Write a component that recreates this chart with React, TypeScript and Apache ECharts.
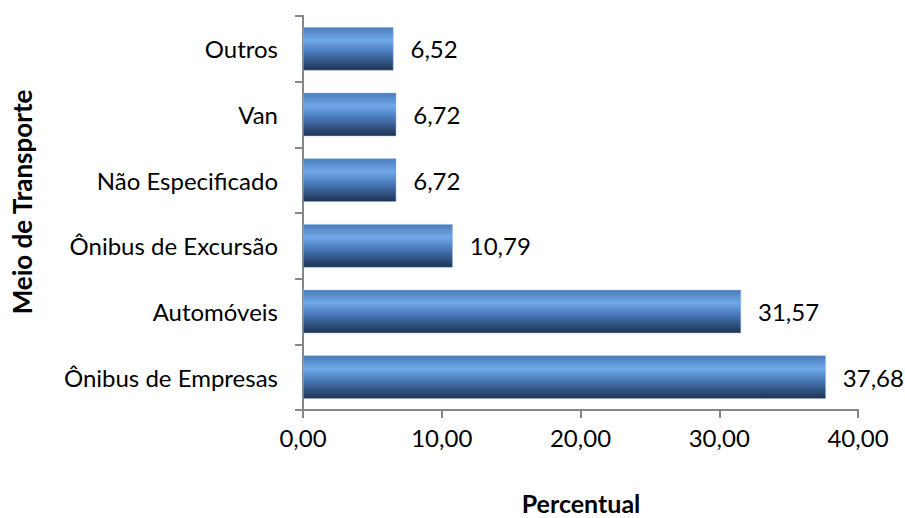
import React, { useEffect, useRef } from "react";
import * as echarts from "echarts";

const categories = ["Ônibus de Empresas", "Automóveis", "Ônibus de Excursão", "Não Especificado", "Van", "Outros"];
const values = [37.68, 31.57, 10.79, 6.72, 6.72, 6.52];
const xTicks = [0, 10, 20, 30, 40];
const xTitle = "Percentual";
const yTitle = "Meio de Transporte";

const FONT = "Lato, 'Open Sans', sans-serif";
const fmt = (v: number) => v.toFixed(2).replace(".", ",");

export default function App() {
  const ref = useRef<HTMLDivElement>(null);
  useEffect(() => {
    document.body.style.margin = "0";
    const chart = echarts.init(ref.current!, null, { renderer: "svg" });
    chart.setOption({
      animation: false,
      backgroundColor: "#ffffff",
      grid: { left: 303, top: 16, width: 555, height: 394, containLabel: false, outerBoundsMode: "none" },
      graphic: [
        {
          type: "text",
          x: 581,
          y: 503,
          style: { text: xTitle, font: `bold 25px ${FONT}`, fill: "#000", textAlign: "center", textVerticalAlign: "middle" },
        },
        {
          type: "text",
          x: 22,
          y: 202,
          rotation: Math.PI / 2,
          style: { text: yTitle, font: `bold 26px ${FONT}`, fill: "#000", textAlign: "center", textVerticalAlign: "middle" },
        },
      ],
      xAxis: {
        type: "value",
        min: xTicks[0],
        max: xTicks[xTicks.length - 1],
        interval: 10,
        axisLine: { show: true, lineStyle: { color: "#868686", width: 2 } },
        axisTick: { show: true, length: 8, lineStyle: { color: "#868686", width: 2 } },
        splitLine: { show: false },
        axisLabel: { fontFamily: FONT, fontSize: 24, color: "#000", margin: 15, formatter: (v: number) => fmt(v) },
      },
      yAxis: {
        type: "category",
        data: categories,
        axisLine: { show: true, lineStyle: { color: "#868686", width: 2 } },
        axisTick: { show: true, length: 8, lineStyle: { color: "#868686", width: 2 } },
        axisLabel: { fontFamily: FONT, fontSize: 24, color: "#000", margin: 25 },
      },
      series: [
        {
          type: "bar",
          data: values,
          barCategoryGap: "34%",
          itemStyle: {
            borderColor: "#8eb4e3",
            borderWidth: 0.5,
            color: new echarts.graphic.LinearGradient(0, 0, 0, 1, [
              { offset: 0, color: "#4a7bb9" },
              { offset: 0.3, color: "#70a8e8" },
              { offset: 0.55, color: "#4b7ebf" },
              { offset: 1, color: "#1d3252" },
            ]),
          },
          label: {
            show: true,
            position: "right",
            distance: 17,
            fontFamily: FONT,
            fontSize: 24,
            color: "#000",
            formatter: (p: any) => fmt(p.value),
          },
        },
      ],
    });
    return () => chart.dispose();
  }, []);
  return <div ref={ref} style={{ position: "absolute", left: 0, top: 0, width: 905, height: 518 }} />;
}
